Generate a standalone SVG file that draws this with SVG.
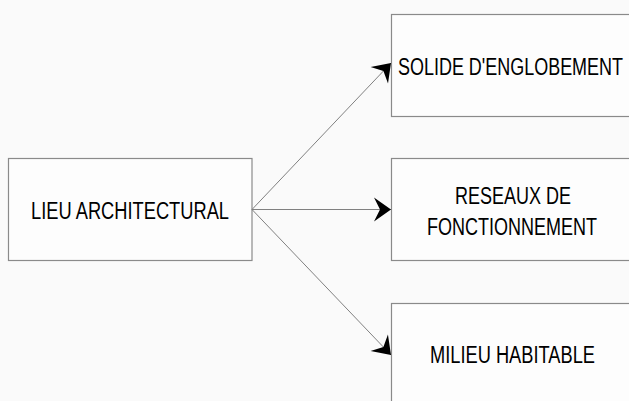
<svg xmlns="http://www.w3.org/2000/svg" width="629" height="401" viewBox="0 0 629 401">
  <style>
    .box { fill: #fdfdfd; stroke: #8a8a8a; stroke-width: 1.2; }
    .lbl { font-family: "Liberation Sans", Arial, sans-serif; font-size: 23.5px; fill: #000; text-anchor: middle; }
    .conn { stroke: #808080; stroke-width: 1; fill: none; marker-end: url(#head); }
  </style>
  <defs>
    <marker id="head" markerUnits="userSpaceOnUse" markerWidth="20" markerHeight="28" viewBox="-18 -14 19 28" refX="0" refY="0" orient="auto">
      <path d="M0,0 L-17,-12 L-11,0 L-17,12 Z" fill="#000"/>
    </marker>
  </defs>
  <rect width="629" height="401" fill="#fafafa"/>

  <g id="lieu-architectural">
    <rect class="box" x="8.5" y="158.5" width="243.5" height="102"/>
    <text class="lbl" x="130" y="219" textLength="198" lengthAdjust="spacingAndGlyphs">LIEU ARCHITECTURAL</text>
  </g>

  <g id="solide-englobement">
    <rect class="box" x="391.5" y="14.5" width="238.5" height="102"/>
    <text class="lbl" x="510.5" y="74.5" textLength="225" lengthAdjust="spacingAndGlyphs">SOLIDE D'ENGLOBEMENT</text>
  </g>

  <g id="reseaux-fonctionnement">
    <rect class="box" x="391.5" y="158.5" width="238.5" height="102"/>
    <text class="lbl" x="513" y="203.5" textLength="116" lengthAdjust="spacingAndGlyphs">RESEAUX DE</text>
    <text class="lbl" x="512" y="234.5" textLength="170" lengthAdjust="spacingAndGlyphs">FONCTIONNEMENT</text>
  </g>

  <g id="milieu-habitable">
    <rect class="box" x="391.5" y="303.5" width="238.5" height="98.5"/>
    <text class="lbl" x="512.5" y="362.5" textLength="165" lengthAdjust="spacingAndGlyphs">MILIEU HABITABLE</text>
  </g>

  <g id="connectors">
    <line class="conn" x1="252" y1="209.5" x2="391" y2="63"/>
    <line class="conn" x1="252" y1="209.5" x2="391" y2="209.5"/>
    <line class="conn" x1="252" y1="209.5" x2="391" y2="355"/>
  </g>
</svg>
